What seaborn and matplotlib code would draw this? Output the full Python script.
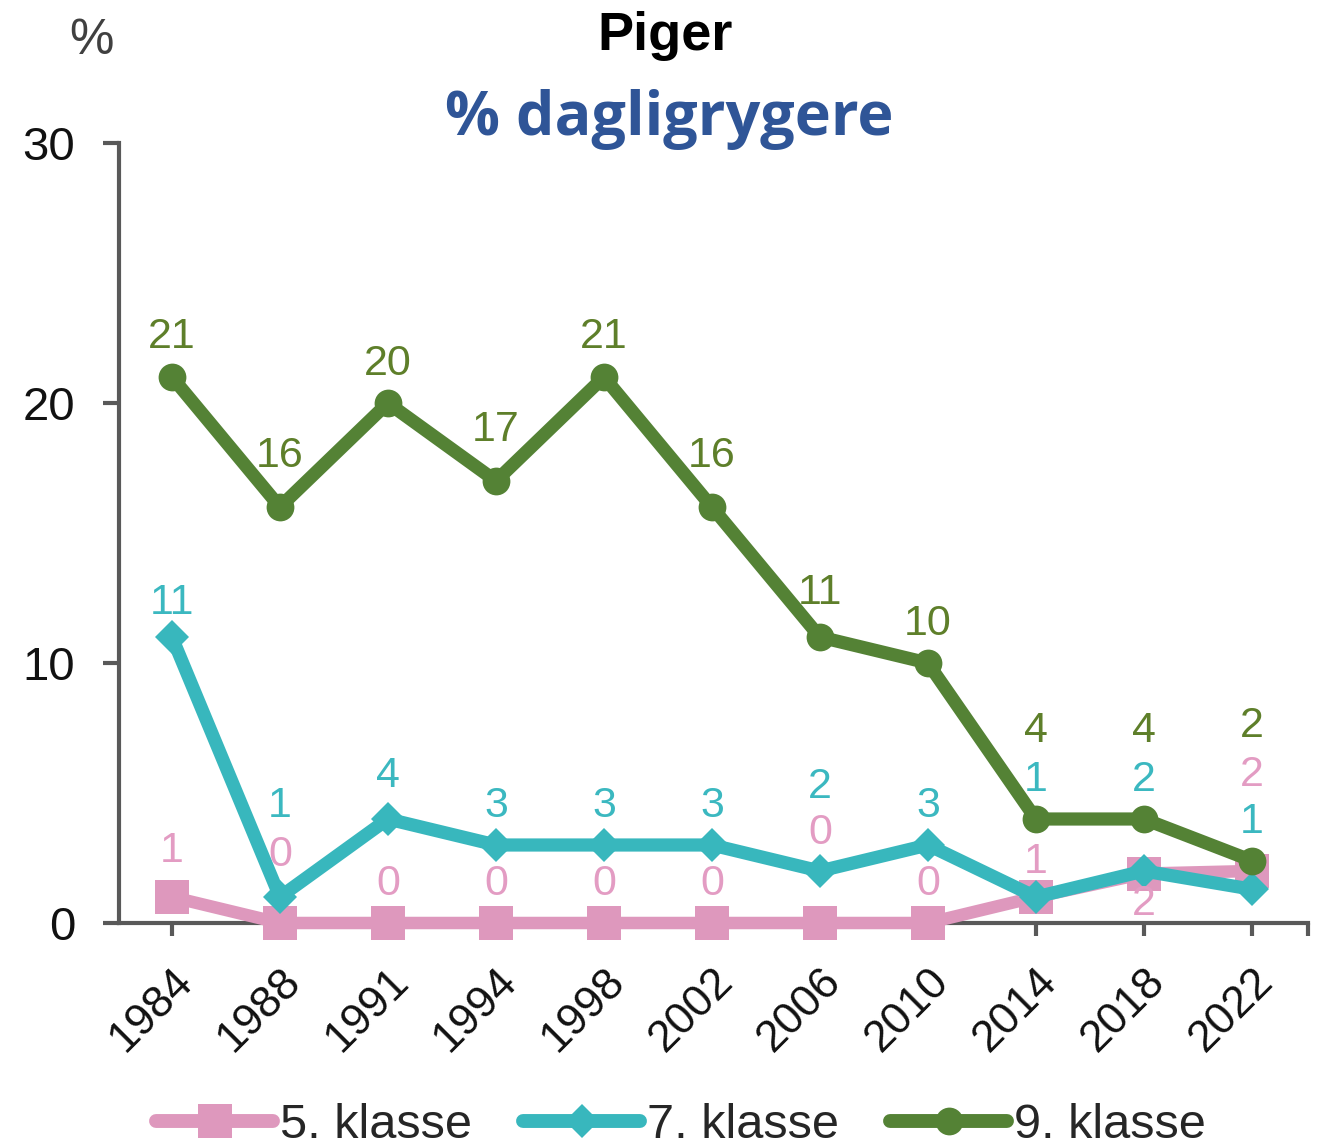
import numpy as np
import pandas as pd
import matplotlib
matplotlib.use("Agg")
import matplotlib.pyplot as plt
import matplotlib.transforms as mtransforms
import seaborn as sns
from matplotlib.lines import Line2D

# Data
years = ["1984", "1988", "1991", "1994", "1998", "2002", "2006", "2010", "2014", "2018", "2022"]
klasse5 = [1, 0, 0, 0, 0, 0, 0, 0, 1, 1.9, 2.0]
klasse7 = [11, 1, 4, 3, 3, 3, 2, 3, 1, 2, 1.3]
klasse9 = [21, 16, 20, 17, 21, 16, 11, 10, 4, 4, 2.4]
series_names = ["5. klasse", "7. klasse", "9. klasse"]

# label offsets in pixels (positive = above the point), hand placed like the original
dy5 = [46, 68, 39, 39, 39, 39, 90, 39, 35, -30, 96]
dy7 = [34, 91, 43, 39, 39, 39, 84, 39, 117, 91, 67]
dy9 = [40, 51, 39, 51, 40, 51, 44, 39, 88, 88, 135]

colors = {"5. klasse": "#de98bd", "7. klasse": "#38b7bd", "9. klasse": "#548235"}
label_colors = {"5. klasse": "#e39cc3", "7. klasse": "#3bb8c0", "9. klasse": "#5e7f2a"}
markers = {"5. klasse": "s", "7. klasse": "D", "9. klasse": "o"}
msizes = {"5. klasse": 24, "7. klasse": 17, "9. klasse": 20}
lwidths = {"5. klasse": 9, "7. klasse": 9.5, "9. klasse": 9.5}

pos = np.arange(len(years))
df = pd.DataFrame({
    "pos": np.tile(pos, 3),
    "value": klasse5 + klasse7 + klasse9,
    "klasse": np.repeat(series_names, len(years)),
})

sns.set_style("white")
plt.rcParams["font.family"] = ["Liberation Sans", "DejaVu Sans"]

fig = plt.figure(figsize=(13.2, 11.47), dpi=100)
ax = fig.add_axes([119 / 1320, 224 / 1147, (1308 - 119) / 1320, (923 - 143) / 1147])

for name in series_names:
    sub = df[df["klasse"] == name]
    sns.lineplot(data=sub, x="pos", y="value", ax=ax, color=colors[name],
                 marker=markers[name], markersize=msizes[name],
                 markeredgewidth=0, linewidth=lwidths[name], legend=False,
                 clip_on=False)

offsets = {"5. klasse": dy5, "7. klasse": dy7, "9. klasse": dy9}
for name, vals in zip(series_names, [klasse5, klasse7, klasse9]):
    for i, v in enumerate(vals):
        ax.annotate(f"{v:.0f}", (pos[i], v), xytext=(0, offsets[name][i]),
                    textcoords="offset pixels", ha="center", va="center",
                    fontsize=31, color=label_colors[name])

ax.set_xlim(-0.49, 10.52)
ax.set_ylim(0, 30)
ax.set_yticks([0, 10, 20, 30])
ax.set_xticks(pos)
ax.set_xticks([10.52], minor=True)
ax.set_xticklabels(years, rotation=45, ha="right", va="top",
                   rotation_mode="anchor", fontsize=32, color="#111111")
shift = mtransforms.ScaledTranslation(3 / 100, 0, fig.dpi_scale_trans)
for lab in ax.get_xticklabels():
    lab.set_transform(lab.get_transform() + shift)
ax.tick_params(axis="y", labelsize=34, labelcolor="#111111", length=11.5,
               width=3, color="#595959", left=True, pad=20)
ax.tick_params(axis="x", which="both", length=9, width=3, color="#595959",
               bottom=True, pad=18)
ax.set_xlabel("")
ax.set_ylabel("")
for side in ["top", "right"]:
    ax.spines[side].set_visible(False)
for side in ["left", "bottom"]:
    ax.spines[side].set_color("#595959")
    ax.spines[side].set_linewidth(3)
    ax.spines[side].set_zorder(0.5)

fig.text(91 / 1320, 1 - 54 / 1147, "%", fontsize=36, color="#404040",
         ha="center", va="baseline")
fig.text(665 / 1320, 1 - 50 / 1147, "Piger", fontsize=39, fontweight="bold",
         color="black", ha="center", va="baseline")
fig.text(669 / 1320, 1 - 135 / 1147, "% dagligrygere", fontsize=44,
         fontweight="bold", color="#2f5597", ha="center", va="baseline",
         family=["Open Sans", "DejaVu Sans"])

handles = [Line2D([], [], color=colors[n], marker=markers[n], linewidth=10,
                  markersize=msizes[n], markeredgewidth=0) for n in series_names]
fig.legend(handles, series_names, loc="center", bbox_to_anchor=(0.516, 0.019),
           ncol=3, frameon=False, fontsize=35, handlelength=2.4,
           handletextpad=0.15, columnspacing=1.05, borderpad=0.1)

fig.savefig("out.png", dpi=100)
